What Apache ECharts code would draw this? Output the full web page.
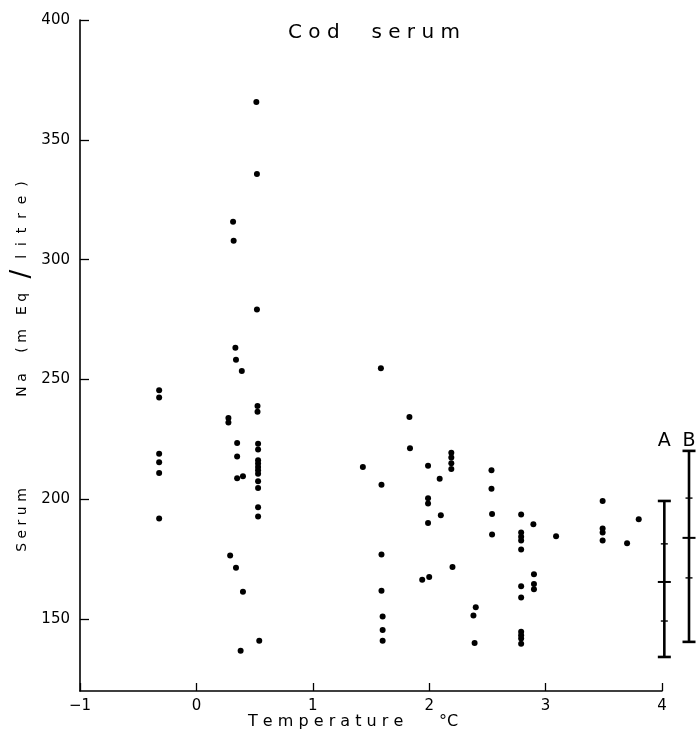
<!DOCTYPE html>
<html>
<head>
<meta charset="utf-8">
<script src="https://cdn.jsdelivr.net/npm/echarts@6/dist/echarts.min.js"></script>
<style>
html,body{margin:0;padding:0;background:#fff;}
#chart{width:697px;height:732px;}
</style>
</head>
<body>
<div id="chart"></div>
<script>
// Temperature (°C) of each fish sample
const temperature = [
  -0.32, -0.32, -0.32, -0.32, -0.32, -0.32,
  0.515, 0.52, 0.315, 0.32, 0.52, 0.335, 0.34, 0.39,
  0.525, 0.525, 0.275, 0.275, 0.35, 0.53, 0.53, 0.35,
  0.53, 0.53, 0.53, 0.53, 0.53, 0.35, 0.40,
  0.53, 0.53, 0.53, 0.53, 0.29, 0.34, 0.40, 0.54, 0.38,
  1.585, 1.83, 1.835, 1.43, 1.99, 2.19, 2.19, 2.19, 2.19,
  2.09, 1.59, 2.535, 2.535, 1.99, 1.99, 2.10, 2.54, 2.79,
  1.99, 2.895, 2.54, 3.09, 2.79, 2.79, 2.79, 2.79, 1.59,
  2.20, 2.00, 1.94, 2.90, 2.90, 2.90, 2.79, 1.59, 2.79,
  2.40, 2.38, 1.60, 1.60, 1.60, 2.39, 2.79, 2.79, 2.79, 2.79,
  3.49, 3.49, 3.49, 3.49, 3.70, 3.80
];
// Serum Na (m Eq/litre) of each sample
const sodium = [
  245.5, 242.5, 219, 215.5, 211, 192,
  365.8, 335.7, 315.8, 307.9, 279.2, 263.2, 258.2, 253.5,
  238.9, 236.5, 233.9, 232, 223.5, 223.2, 220.8, 217.9,
  216.3, 214.9, 213.5, 212.1, 210.7, 208.75, 209.6,
  207.5, 204.7, 196.7, 192.8, 176.5, 171.4, 161.4, 141, 136.8,
  254.7, 234.3, 221.25, 213.5, 214, 219.4, 217.4, 215, 212.6,
  208.6, 206.1, 212.1, 204.4, 200.4, 198.2, 193.3, 193.9, 193.6,
  190.1, 189.6, 185.3, 184.6, 186.1, 184.4, 182.8, 179, 177,
  171.7, 167.6, 166.4, 168.75, 164.6, 162.5, 163.75, 161.8, 159,
  155, 151.5, 151.1, 145.5, 141, 140, 144.7, 143.3, 141.9, 139.7,
  199.3, 187.8, 186.1, 182.8, 181.7, 191.7
];
// Summary bars A and B: lower end, lower tick, mean, upper tick, upper end
const barNames = ['A', 'B'];
const barX = [4.02, 4.232];
const barLow = [134.2, 140.5];
const barLowTick = [149.2, 167.2];
const barMean = [165.5, 183.9];
const barHighTick = [181.4, 200.5];
const barHigh = [199.3, 220.2];
const barLabelLevel = 224.3;

const yTicks = [150, 200, 250, 300, 350, 400];

const points = temperature.map((t, i) => [t, sodium[i]]);
const barData = barX.map((x, i) => [x, barLow[i], barLowTick[i], barMean[i], barHighTick[i], barHigh[i], i]);

const FONT = '"DejaVu Sans", sans-serif';
const chart = echarts.init(document.getElementById('chart'), null, {renderer: 'canvas'});

function vText(text, x, y, size) {
  return {
    type: 'text', x: x, y: y, rotation: Math.PI / 2,
    style: {
      text: text, fill: '#000', font: size + 'px ' + FONT,
      textAlign: 'center', textVerticalAlign: 'middle',
      align: 'center', verticalAlign: 'middle'
    }
  };
}

chart.setOption({
  animation: false,
  backgroundColor: '#fff',
  grid: {left: 80, right: 35, top: 20, bottom: 41, containLabel: false, outerBoundsMode: 'none'},
  xAxis: {
    type: 'value', min: -1, max: 4, interval: 1,
    axisLine: {show: true, onZero: false, lineStyle: {color: '#000', width: 1.6}},
    axisTick: {show: true, inside: true, length: 8, lineStyle: {color: '#000', width: 1.3}},
    axisLabel: {
      color: '#000', fontFamily: FONT, fontSize: 15, margin: 8,
      formatter: v => v < 0 ? '\u2212' + Math.abs(v) : String(v)
    },
    splitLine: {show: false}
  },
  yAxis: {
    type: 'value', min: 120, max: 400,
    axisLine: {show: true, onZero: false, lineStyle: {color: '#000', width: 1.6}},
    axisTick: {show: true, inside: true, length: 9, customValues: yTicks, lineStyle: {color: '#000', width: 1.3}},
    axisLabel: {color: '#000', fontFamily: FONT, fontSize: 15, margin: 10, customValues: yTicks},
    splitLine: {show: false}
  },
  graphic: [
    {
      type: 'text', x: 288, y: 33,
      style: {
        text: 'C o d     s e r u m', fill: '#000', font: '20px ' + FONT,
        textAlign: 'left', textVerticalAlign: 'middle', align: 'left', verticalAlign: 'middle'
      }
    },
    {
      type: 'text', x: 248, y: 722,
      style: {
        text: 'T e m p e r a t u r e       \u00B0C', fill: '#000', font: '16px ' + FONT,
        textAlign: 'left', textVerticalAlign: 'middle', align: 'left', verticalAlign: 'middle'
      }
    },
    vText('S e r u m', 22, 520, 14),
    vText('N a', 22, 385, 14),
    vText('( m', 22, 341, 14),
    vText('E q', 22, 304, 14),
    vText('/', 22, 274, 26),
    vText('l  i  t  r  e  )', 22, 220, 14)
  ],
  series: [
    {
      type: 'scatter',
      data: points,
      symbol: 'circle',
      symbolSize: 6,
      itemStyle: {color: '#000', opacity: 1},
      silent: true
    },
    {
      type: 'custom',
      clip: false,
      data: barData,
      renderItem: function (params, api) {
        const x = api.value(0);
        const pLow = api.coord([x, api.value(1)]);
        const pLowT = api.coord([x, api.value(2)]);
        const pMean = api.coord([x, api.value(3)]);
        const pHighT = api.coord([x, api.value(4)]);
        const pHigh = api.coord([x, api.value(5)]);
        const pLab = api.coord([x, barLabelLevel]);
        const name = barNames[api.value(6)];
        const cx = pLow[0];
        const stroke = {stroke: '#000', lineWidth: 2.6};
        const thin = {stroke: '#000', lineWidth: 1.4};
        const hl = (p, w, st) => ({type: 'line', shape: {x1: cx - w, y1: p[1], x2: cx + w, y2: p[1]}, style: st});
        return {
          type: 'group',
          children: [
            {type: 'line', shape: {x1: cx, y1: pLow[1], x2: cx, y2: pHigh[1]}, style: stroke},
            hl(pLow, 6.5, stroke),
            hl(pHigh, 6.5, stroke),
            hl(pMean, 6.5, {stroke: '#000', lineWidth: 2}),
            hl(pLowT, 3.5, thin),
            hl(pHighT, 3.5, thin),
            {
              type: 'text', x: cx, y: pLab[1],
              style: {
                text: name, fill: '#000', font: '19px ' + FONT,
                textAlign: 'center', textVerticalAlign: 'middle', align: 'center', verticalAlign: 'middle'
              }
            }
          ]
        };
      }
    }
  ]
});
</script>
</body>
</html>
